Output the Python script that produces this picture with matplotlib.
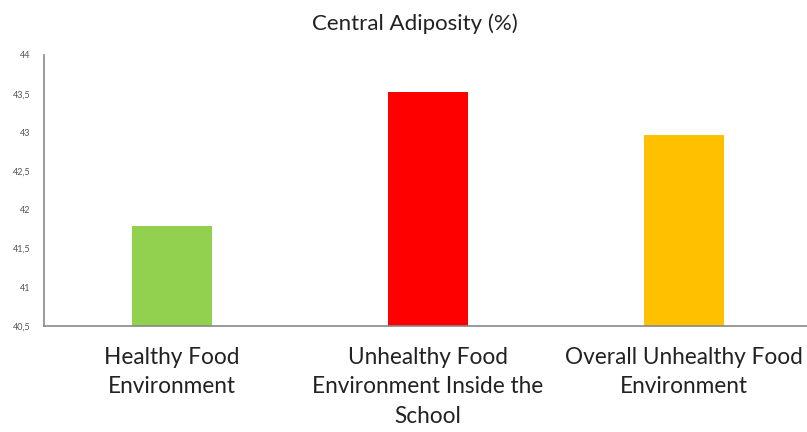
import matplotlib
matplotlib.use("Agg")
import matplotlib.pyplot as plt
from matplotlib.ticker import FuncFormatter

categories = ["Healthy Food\nEnvironment",
              "Unhealthy Food\nEnvironment Inside the\nSchool",
              "Overall Unhealthy Food\nEnvironment"]
values = [41.79, 43.52, 42.97]
colors = ["#92D050", "#FF0000", "#FFC000"]
yticks = [40.5, 41, 41.5, 42, 42.5, 43, 43.5, 44]
title = "Central Adiposity (%)"

plt.rcParams['font.family'] = ['Lato', 'DejaVu Sans']

fig = plt.figure(figsize=(8.07, 4.32), dpi=100)
W, H = 807, 432
ax = fig.add_axes([44 / W, 1 - 326 / H, 768 / W, 271 / H])

x = list(range(len(categories)))
ax.bar(x, values, width=0.31, color=colors, bottom=0)
ax.set_xlim(-0.5, 2.5)
ax.set_ylim(40.5, 44)
ax.set_yticks(yticks)
ax.yaxis.set_major_formatter(FuncFormatter(lambda v, p: (f"{v:g}").replace(".", ",")))
ax.tick_params(axis='y', length=0, labelsize=6.5, labelcolor="#555555", pad=10)
ax.set_xticks(x)
ax.set_xticklabels(categories, fontsize=16.3, color="#222222", linespacing=1.5)
ax.tick_params(axis='x', length=0, pad=15)

for s in ["top", "right"]:
    ax.spines[s].set_visible(False)
for s in ["left", "bottom"]:
    ax.spines[s].set_color("#888888")
    ax.spines[s].set_linewidth(1.2)

fig.text(415 / W, 1 - 24 / H, title, ha="center", va="center", fontsize=16, color="#222222")

fig.savefig("out.png", dpi=100)
